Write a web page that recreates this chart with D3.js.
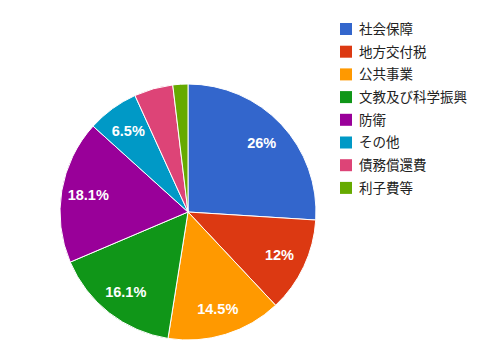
<!DOCTYPE html>
<html>
<head>
<meta charset="utf-8">
<script src="https://cdn.jsdelivr.net/npm/d3@7"></script>
<style>
  html, body { margin: 0; padding: 0; background: #fff; }
  svg text { font-family: Arial, "Liberation Sans", "Noto Sans CJK JP", sans-serif; }
</style>
</head>
<body>
<div id="chart"></div>
<script>
// Budget breakdown (percent of total)
const categories = ["社会保障", "地方交付税", "公共事業", "文教及び科学振興", "防衛", "その他", "債務償還費", "利子費等"];
const shares = [26.0, 12.0, 14.5, 16.1, 18.1, 6.5, 4.9, 1.9];
const colors = ["#3366cc", "#dc3912", "#ff9900", "#109618", "#990099", "#0099c6", "#dd4477", "#66aa00"];

const width = 500, height = 360;
const cx = 188, cy = 212, radius = 128;

const svg = d3.select("#chart").append("svg")
  .attr("width", width).attr("height", height);

const data = categories.map((c, i) => ({ name: c, value: shares[i], color: colors[i] }));

const pie = d3.pie().sort(null).value(d => d.value);
const arcs = pie(data);
const arc = d3.arc().innerRadius(0).outerRadius(radius);
const labelArc = d3.arc().innerRadius(radius * 0.79).outerRadius(radius * 0.79);

const g = svg.append("g").attr("transform", `translate(${cx},${cy})`);

g.selectAll("path.slice").data(arcs).join("path")
  .attr("class", "slice")
  .attr("d", arc)
  .attr("fill", d => d.data.color)
  .attr("stroke", "#fff")
  .attr("stroke-width", 1);

const fmt = v => (Number.isInteger(v) ? v.toFixed(0) : v.toFixed(1)) + "%";

// Percentage labels on slices large enough to hold them
g.selectAll("text.pct").data(arcs.filter(d => d.data.value >= 5)).join("text")
  .attr("class", "pct")
  .attr("transform", d => `translate(${labelArc.centroid(d)})`)
  .attr("text-anchor", "middle")
  .attr("dy", "0.36em")
  .attr("fill", "#fff")
  .attr("font-size", 14.5)
  .attr("font-weight", "bold")
  .text(d => fmt(d.data.value));

// Legend
const legend = svg.append("g").attr("transform", "translate(340,23)");
const rowH = 22.7;
const rows = legend.selectAll("g.row").data(data).join("g")
  .attr("class", "row")
  .attr("transform", (d, i) => `translate(0,${i * rowH})`);
rows.append("rect")
  .attr("width", 12).attr("height", 12)
  .attr("fill", d => d.color);
rows.append("text")
  .attr("x", 19).attr("y", 6)
  .attr("dy", "0.36em")
  .attr("font-size", 13.5)
  .attr("fill", "#222")
  .text(d => d.name);
</script>
</body>
</html>
